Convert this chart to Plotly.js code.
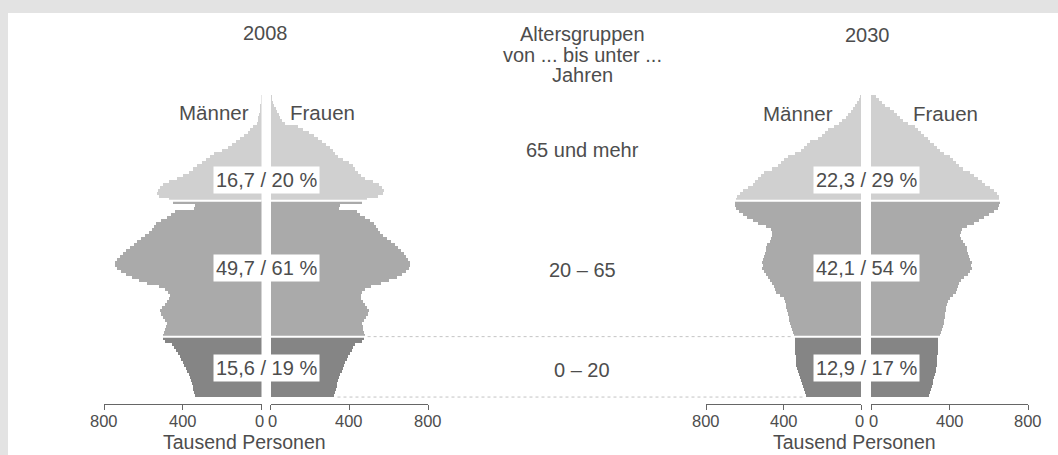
<!DOCTYPE html>
<html>
<head>
<meta charset="utf-8">
<script src="https://cdn.plot.ly/plotly-3.0.1.min.js"></script>
<style>
  html, body { margin: 0; padding: 0; background: #ffffff; }
  #chart { width: 1058px; height: 455px; }
</style>
</head>
<body>
<div id="chart"></div>
<script>
// ---------- DATA (thousand persons, single years of age 0..99) ----------
const ages = Array.from({length: 100}, (_, i) => i);

const men2008 = [
  338, 342, 346, 350, 355, 360, 365, 370, 378, 385,
  392, 400, 408, 415, 425, 435, 445, 455, 490, 500,
  500, 495, 490, 485, 480, 490, 500, 510, 515, 505,
  490, 480, 470, 465, 475, 490, 520, 580, 620, 660,
  690, 715, 735, 745, 745, 735, 720, 705, 690, 670,
  650, 630, 610, 590, 570, 555, 545, 535, 510, 480,
  460, 440, 345, 340, 450, 470, 520, 530, 525, 515,
  500, 470, 430, 400, 370, 350, 330, 300, 280, 260,
  240, 200, 170, 150, 130, 110, 90, 70, 60, 45,
  22, 20, 18, 15, 10, 8, 6, 4, 3, 2
];
const women2008 = [
  325, 330, 333, 337, 340, 345, 350, 355, 362, 368,
  375, 380, 388, 395, 405, 412, 420, 430, 465, 475,
  478, 475, 470, 468, 466, 475, 485, 495, 500, 490,
  478, 468, 462, 458, 465, 480, 510, 560, 600, 640,
  670, 690, 705, 710, 708, 700, 690, 680, 665, 648,
  630, 610, 590, 570, 555, 545, 535, 525, 505, 480,
  455, 440, 350, 355, 465, 490, 545, 570, 575, 565,
  550, 520, 480, 460, 445, 430, 420, 400, 370, 345,
  330, 315, 300, 280, 260, 240, 220, 195, 165, 140,
  75, 60, 50, 42, 35, 28, 20, 14, 9, 6
];
const men2030 = [
  285, 290, 295, 300, 305, 310, 315, 320, 325, 330,
  333, 335, 337, 338, 340, 340, 341, 342, 342, 343,
  345, 352, 356, 360, 365, 370, 372, 375, 380, 385,
  388, 392, 400, 420, 440, 445, 450, 460, 470, 480,
  490, 500, 510, 505, 510, 505, 500, 495, 492, 490,
  485, 470, 462, 458, 460, 465, 490, 530, 560, 590,
  610, 630, 645, 650, 648, 645, 640, 625, 610, 585,
  560, 545, 530, 515, 500, 460, 430, 415, 395, 375,
  340, 310, 295, 280, 265, 220, 200, 185, 170, 140,
  115, 97, 80, 65, 52, 40, 30, 20, 12, 7
];
const women2030 = [
  295, 300, 305, 310, 315, 318, 320, 325, 330, 333,
  335, 336, 338, 338, 340, 340, 341, 342, 342, 343,
  350, 358, 362, 366, 370, 372, 375, 378, 380, 382,
  385, 390, 400, 420, 435, 440, 445, 450, 460, 475,
  495, 505, 515, 510, 515, 505, 498, 495, 490, 488,
  480, 468, 460, 455, 458, 465, 490, 525, 550, 575,
  600, 625, 645, 652, 655, 652, 650, 640, 625, 605,
  580, 565, 545, 525, 505, 470, 450, 435, 420, 400,
  370, 350, 335, 320, 300, 290, 270, 255, 240, 225,
  190, 165, 150, 130, 115, 95, 70, 55, 40, 25
];

const groupBounds = [20, 65];
const groupNames = ['0 – 20', '20 – 65', '65 und mehr'];
const labels2008 = ['15,6 / 19 %', '49,7 / 61 %', '16,7 / 20 %'];
const labels2030 = ['12,9 / 17 %', '42,1 / 54 %', '22,3 / 29 %'];
const yearTitles = ['2008', '2030'];
const sexLabels = ['Männer', 'Frauen'];
const tickVals = [0, 400, 800];
const tickText = ['0', '400', '800'];
const unitLabel = 'Tausend Personen';
const centerTitle = ['Altersgruppen', 'von ... bis unter ...', 'Jahren'];

// ---------- STYLE / LAYOUT ----------
const W = 1058, H = 455;
const PLOT_TOP = 95, PLOT_BOT = 404;
const px = p => p / W;
const py = p => (PLOT_BOT - p) / (PLOT_BOT - PLOT_TOP);

const COL_YOUNG = '#858585', COL_MID = '#aaaaaa', COL_OLD = '#d0d0d0';
const TXT = '#4d4d4d';
const AXC = '#666666';
const FONT = 'Liberation Sans, Arial, sans-serif';

const colorFor = a => a < groupBounds[0] ? COL_YOUNG : (a < groupBounds[1] ? COL_MID : COL_OLD);
const barColors = ages.map(colorFor);
const yCenters = ages.map(a => a + 0.5);

const domains = [
  [104 / W, 261.5 / W],
  [270.5 / W, 428 / W],
  [706 / W, 861 / W],
  [871 / W, 1028 / W]
];
const ranges = [[800, 0], [0, 800], [800, 0], [0, 800]];
const axNames = ['x', 'x2', 'x3', 'x4'];
const series = [men2008, women2008, men2030, women2030];

const traces = series.map((vals, i) => ({
  type: 'bar',
  orientation: 'h',
  x: vals,
  y: yCenters,
  width: 1,
  xaxis: axNames[i],
  yaxis: 'y',
  marker: { color: barColors, line: { width: 0 } },
  hoverinfo: 'x+y',
  showlegend: false
}));

const layout = {
  width: W, height: H,
  margin: { l: 0, r: 0, t: PLOT_TOP, b: H - PLOT_BOT, pad: 0 },
  paper_bgcolor: '#ffffff',
  plot_bgcolor: 'rgba(0,0,0,0)',
  barmode: 'overlay',
  bargap: 0,
  showlegend: false,
  font: { family: FONT, color: TXT, size: 17 },
  yaxis: { range: [-2.3, 100], visible: false, fixedrange: true, domain: [0, 1] },
  shapes: [],
  annotations: []
};

for (let i = 0; i < 4; i++) {
  const base = {
    domain: domains[i], range: ranges[i], anchor: 'y', side: 'bottom',
    showgrid: false, zeroline: false, fixedrange: true,
    tickmode: 'array', tickvals: tickVals, ticktext: tickText, showticklabels: false
  };
  layout[i === 0 ? 'xaxis' : 'xaxis' + (i + 1)] = Object.assign({}, base, {
    showline: true, linecolor: AXC, linewidth: 1,
    ticks: 'outside', ticklen: 5, tickwidth: 1, tickcolor: AXC
  });
  // overlay axis so the ticks cross the axis line
  layout['xaxis' + (i + 5)] = Object.assign({}, base, {
    overlaying: axNames[i],
    showline: false, ticks: 'inside', ticklen: 5, tickwidth: 1, tickcolor: AXC
  });
}

// background frame (top band and left strip)
layout.shapes.push({ type: 'rect', xref: 'paper', yref: 'paper', x0: 0, x1: 1, y0: py(13), y1: py(0),
  fillcolor: '#e3e3e3', line: { width: 0 }, layer: 'below' });
layout.shapes.push({ type: 'rect', xref: 'paper', yref: 'paper', x0: 0, x1: px(8), y0: py(H), y1: py(0),
  fillcolor: '#e3e3e3', line: { width: 0 }, layer: 'below' });

// white separator lines between age groups
axNames.forEach(ax => {
  groupBounds.forEach(b => {
    layout.shapes.push({ type: 'line', xref: ax + ' domain', yref: 'y', x0: 0, x1: 1, y0: b, y1: b,
      line: { color: '#ffffff', width: 2 }, layer: 'above' });
  });
});

// dashed connector lines at ages 0 and 20 between the two pyramids
const toPaper = (i, v) => {
  const d = domains[i], r = ranges[i];
  return d[0] + (v - r[0]) / (r[1] - r[0]) * (d[1] - d[0]);
};
[0, groupBounds[0]].forEach(a => {
  const wEdge = Math.max(women2008[a], a > 0 ? women2008[a - 1] : 0);
  const mEdge = Math.max(men2030[a], a > 0 ? men2030[a - 1] : 0);
  layout.shapes.push({ type: 'line', xref: 'paper', yref: 'y',
    x0: toPaper(1, wEdge) + px(3), x1: toPaper(2, mEdge) - px(3), y0: a, y1: a,
    line: { color: '#c4c4c4', width: 1, dash: 'dot' }, layer: 'above' });
});

const ann = (text, x, y, size, extra) => Object.assign({
  text, x: px(x), y: py(y), xref: 'paper', yref: 'paper', showarrow: false,
  xanchor: 'center', yanchor: 'middle', font: { family: FONT, size, color: TXT }
}, extra || {});

// tick labels (as annotations bound to the axes, so the two zeros sit side by side)
axNames.forEach((ax, i) => {
  const isMen = ranges[i][0] > ranges[i][1];
  tickVals.forEach((t, k) => {
    const a = {
      text: tickText[k], x: t, xref: ax, y: py(421), yref: 'paper', showarrow: false,
      xanchor: 'center', yanchor: 'middle', font: { family: FONT, size: 16.5, color: TXT }
    };
    if (t === 0) {
      a.xanchor = isMen ? 'right' : 'left';
      a.xshift = isMen ? 4.5 : -4.5;
    }
    layout.annotations.push(a);
  });
});

// year titles
layout.annotations.push(ann(yearTitles[0], 265, 33, 20));
layout.annotations.push(ann(yearTitles[1], 867, 35, 20));
// center column
layout.annotations.push(ann(centerTitle[0], 582, 34, 20));
layout.annotations.push(ann(centerTitle[1], 582, 55, 20));
layout.annotations.push(ann(centerTitle[2], 582, 75, 20));
const groupLabelY = [370, 270, 150];
groupNames.forEach((g, i) => layout.annotations.push(ann(g, 582, groupLabelY[i], 20)));
// sex labels
layout.annotations.push(ann(sexLabels[0], 214, 112, 20.5));
layout.annotations.push(ann(sexLabels[1], 323, 112, 20.5));
layout.annotations.push(ann(sexLabels[0], 798, 113, 20.5));
layout.annotations.push(ann(sexLabels[1], 945, 113, 20.5));
// share labels inside pyramids (white boxes)
const shareAges = [9.6, 42.6, 71.8];
[[labels2008, 266], [labels2030, 866]].forEach(([labs, cx]) => {
  labs.forEach((t, i) => {
    layout.annotations.push({
      text: t, x: px(cx), xref: 'paper', y: shareAges[i], yref: 'y', showarrow: false,
      xanchor: 'center', yanchor: 'middle', bgcolor: '#ffffff', borderpad: 2,
      font: { family: FONT, size: 20, color: TXT }
    });
  });
});
// unit labels
layout.annotations.push(ann(unitLabel, 244, 442, 19.5));
layout.annotations.push(ann(unitLabel, 854, 442, 19.5));

Plotly.newPlot('chart', traces, layout, { displayModeBar: false, staticPlot: true });
</script>
</body>
</html>
